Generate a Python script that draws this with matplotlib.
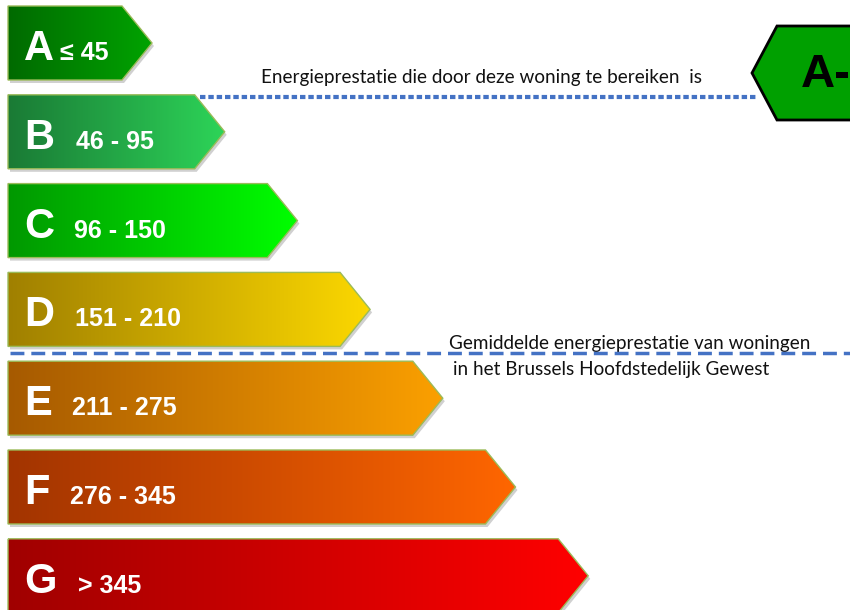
import numpy as np
import matplotlib.pyplot as plt
from matplotlib.patches import Polygon
from matplotlib.colors import to_rgb

# --- label data ---
grades = ["A", "B", "C", "D", "E", "F", "G"]
ranges = ["≤ 45", "46 - 95", "96 - 150", "151 - 210", "211 - 275", "276 - 345", "> 345"]
range_x = [60, 76, 74, 75, 72, 70, 78]
left_colors = ["#006a00", "#1a7a35", "#009800", "#a08000", "#a65a00", "#a23400", "#a00000"]
right_colors = ["#00a300", "#2dd458", "#00ff00", "#fcd800", "#fba000", "#ff6600", "#ff0000"]

current_grade = "A-"
current_text = "Energieprestatie die door deze woning te bereiken  is"
avg_text = ["Gemiddelde energieprestatie van woningen",
            "in het Brussels Hoofdstedelijk Gewest"]

W, H = 850, 610
fig = plt.figure(figsize=(W / 100, H / 100), dpi=100)
ax = fig.add_axes([0, 0, 1, 1])

BAR_LEFT = 8
BAR_H = 74
STEP = 88.8
TOP0 = 6
BODY0 = 122
BODY_STEP = 72.7
TIP = 30

for k, g in enumerate(grades):
    y0 = TOP0 + k * STEP
    y1 = y0 + BAR_H
    ym = (y0 + y1) / 2
    xr = BODY0 + k * BODY_STEP
    pts = [(BAR_LEFT, y0), (xr, y0), (xr + TIP, ym), (xr, y1), (BAR_LEFT, y1)]

    # soft shadow
    sh = Polygon([(x + 2, y + 3) for x, y in pts], closed=True,
                 facecolor="#d0d0d0", edgecolor="none", zorder=1)
    ax.add_patch(sh)

    poly = Polygon(pts, closed=True, facecolor="none",
                   edgecolor="#9bbb59", linewidth=1.0, zorder=3)
    ax.add_patch(poly)

    c0 = np.array(to_rgb(left_colors[k]))
    c1 = np.array(to_rgb(right_colors[k]))
    t = np.linspace(0, 1, 256)[:, None]
    grad = (c0 * (1 - t) + c1 * t)[None, :, :]
    im = ax.imshow(grad, extent=(BAR_LEFT, xr + TIP, y1, y0),
                   aspect="auto", zorder=2, interpolation="bilinear")
    im.set_clip_path(poly)

    ax.text(24, ym + 17, g, color="white", fontsize=30, fontweight="bold",
            family="Liberation Sans", va="baseline", ha="left", zorder=4)
    ax.text(range_x[k], ym + 17, ranges[k], color="white", fontsize=18,
            fontweight="bold", family="Liberation Sans", va="baseline",
            ha="left", zorder=4)

# current performance marker
ax.plot([200, 758], [97, 97], color="#4472c4", linewidth=3,
        linestyle=(0, (1.3, 0.7)), zorder=2)
ax.text(261, 77, current_text, fontsize=13.6, family="Lato",
        va="center", ha="left", color="#111111")
marker = Polygon([(752, 73), (777, 26), (870, 26), (870, 120), (777, 120)],
                 closed=True, facecolor="#00a000", edgecolor="black",
                 linewidth=2, zorder=3)
ax.add_patch(marker)
ax.text(801, 87, current_grade, fontsize=34, fontweight="bold",
        family="Liberation Sans", va="baseline", ha="left", color="black",
        zorder=4)

# regional average
ax.plot([10, 850], [353, 353], color="#4472c4", linewidth=2.5,
        linestyle=(0, (4, 2)), zorder=5)
ax.text(449, 344, avg_text[0], fontsize=13.6, family="Lato",
        va="center", ha="left", color="#111111")
ax.text(453, 370, avg_text[1], fontsize=13.6, family="Lato",
        va="center", ha="left", color="#111111")

ax.set_xlim(0, W)
ax.set_ylim(H, 0)
ax.axis("off")

plt.savefig("out.png", dpi=100)
